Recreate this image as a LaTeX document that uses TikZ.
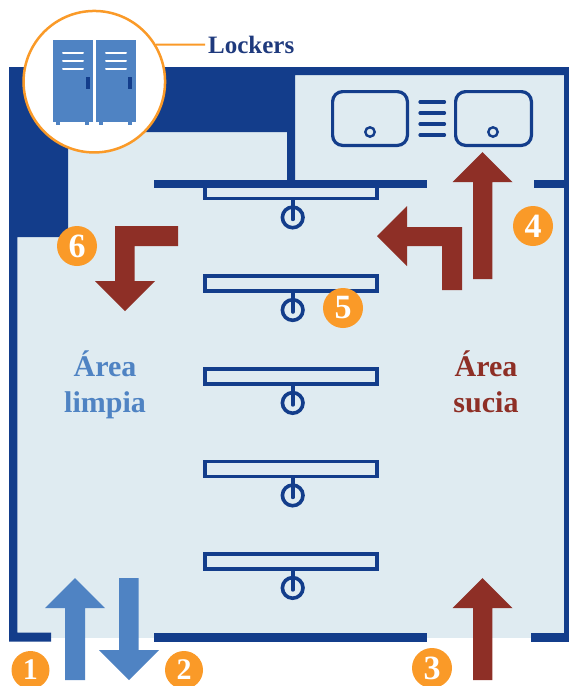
\documentclass[tikz,border=0pt]{standalone}
\usepackage{fontspec}
\setmainfont{Liberation Serif}
\definecolor{wallblue}{HTML}{133D8B}
\definecolor{floorblue}{HTML}{DFEBF1}
\definecolor{cleanblue}{HTML}{4F83C3}
\definecolor{dirtyred}{HTML}{8E2F26}
\definecolor{markorange}{HTML}{FA9A28}
\definecolor{labelblue}{HTML}{1F3A7D}
\tikzset{
    wall/.style={fill=wallblue},
    rack/.style={draw=wallblue, line width=3.6pt},
    sink/.style={draw=wallblue, line width=3.2pt, rounded corners=10pt},
    vent/.style={draw=white, line width=2pt, line cap=round},
    number/.style={circle, fill=markorange, text=white, inner sep=0pt, minimum size=40pt, font=\fontsize{34}{34}\selectfont\bfseries},
    smallnumber/.style={number, minimum size=38pt, font=\fontsize{30}{30}\selectfont\bfseries},
    area/.style={align=center, inner sep=0pt, font=\fontsize{30}{36}\selectfont\bfseries},
}
\begin{document}
\begin{tikzpicture}[x=1pt, y=-1pt]
        \useasboundingbox (0,0) rectangle (569,686);

        % floor and walls
        \fill[floorblue] (9,67) rectangle (569,637.7);
        \fill[wall] (9,67) -- (569,67) -- (569,75) -- (295,75) -- (295,181) -- (287,181) -- (287,132) -- (68,132) -- (68,237) -- (17.3,237) -- (17.3,632.7) -- (51,632.7) -- (51,641.7) -- (9,641.7) -- cycle;
        \fill[wall] (564.3,75) rectangle (569,641.7);
        \fill[wall] (531,632.7) rectangle (569,641.7);
        \fill[wall] (154,632.7) rectangle (427,641.7);
        \fill[wall] (154,180) rectangle (427,188);
        \fill[wall] (534,180) rectangle (569,188);

        % racks
        \foreach \y in {183.4,276,368.9,461.4,553.9} {
            \draw[rack] (204.8,\y) rectangle (377.2,\y+15);
            \draw[draw=wallblue, line width=3.6pt, line cap=round] (292.7,\y+16) -- (292.7,\y+36);
            \draw[draw=wallblue, line width=3.6pt] (292.7,\y+34) circle (10.3);
        }

        % sinks
        \draw[sink] (332.6,91.6) rectangle (407.4,145.4);
        \draw[sink] (455.6,91.6) rectangle (531.4,145.4);
        \draw[wallblue, line width=2.4pt] (370,132) circle (4.7);
        \draw[wallblue, line width=2.4pt] (493,132) circle (4.7);
        \foreach \y in {102,113,124,135} {
            \draw[wallblue, line width=3.2pt, line cap=round] (420,\y) -- (444.5,\y);
        }

        % arrows
        \fill[cleanblue] (75,578) -- (105,608) -- (85,608) -- (85,680) -- (65,680) -- (65,608) -- (45,608) -- cycle;
        \fill[cleanblue] (129,680) -- (159,650) -- (138.5,650) -- (138.5,578) -- (119,578) -- (119,650) -- (99,650) -- cycle;
        \fill[dirtyred] (482.5,578) -- (512.5,608) -- (492.3,608) -- (492.3,680) -- (473,680) -- (473,608) -- (452.5,608) -- cycle;
        \fill[dirtyred] (482.5,152) -- (512.5,182) -- (492.3,182) -- (492.3,279) -- (473,279) -- (473,182) -- (452.5,182) -- cycle;
        \fill[dirtyred] (377,236) -- (407,206) -- (407,227) -- (462,227) -- (462,290) -- (442,290) -- (442,246) -- (407,246) -- (407,266) -- cycle;
        \fill[dirtyred] (125,311) -- (155,281) -- (134.5,281) -- (134.5,246) -- (178,246) -- (178,226) -- (115,226) -- (115,281) -- (95,281) -- cycle;

        % lockers
        \node[circle, draw=markorange, fill=white, line width=2.5pt, inner sep=0pt, minimum size=141.5pt] (lockcircle) at (94.3,81.7) {};
        \node[anchor=base west, inner sep=0pt, text=labelblue, font=\fontsize{25}{25}\selectfont\bfseries] (locklabel) at (208,53) {Lockers};
        \coordinate (lockend) at (205,44.7);
        \draw[markorange, line width=2pt] (lockcircle.31) -- (lockend);
        \foreach \x/\h in {53/86,96/128} {
            \fill[cleanblue] (\x,40) rectangle (\x+40,121.7);
            \fill[cleanblue] (\x+3,121) rectangle (\x+7,125);
            \fill[cleanblue] (\x+32,121) rectangle (\x+36,125);
            \draw[vent] (\x+10,53) -- (\x+30,53);
            \draw[vent] (\x+10,61) -- (\x+30,61);
            \draw[vent] (\x+10,69) -- (\x+30,69);
            \fill[wallblue] (\h,77) rectangle (\h+4,89);
        }

        % labels
        \node[area, text=cleanblue] (clean) at (105,385) {Área\\limpia};
        \node[area, text=dirtyred] (dirty) at (486,381.5) {Área\\sucia};

        % step numbers
        \node[smallnumber] (one) at (30.5,670) {1};
        \node[smallnumber] (two) at (184,670) {2};
        \node[number] (three) at (432,668) {3};
        \node[number] (four) at (533,226) {4};
        \node[number] (five) at (343,308) {5};
        \node[number] (six) at (77,246) {6};
    \end{tikzpicture}
\end{document}
